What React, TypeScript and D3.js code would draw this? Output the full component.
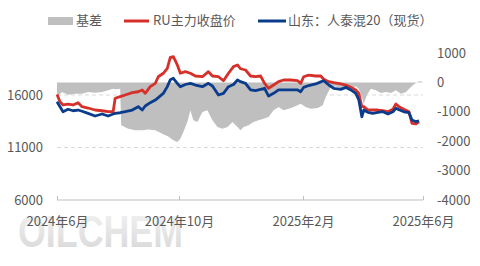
import React from "react";
import * as d3 from "d3";

const lineDates = [
  "2024-06-01","2024-06-04","2024-06-07","2024-06-12","2024-06-17","2024-06-22","2024-06-26","2024-07-02","2024-07-09","2024-07-16",
  "2024-07-22","2024-07-27","2024-07-29","2024-08-03","2024-08-08","2024-08-15","2024-08-21","2024-08-25","2024-08-28","2024-09-02",
  "2024-09-07","2024-09-10","2024-09-15","2024-09-19","2024-09-22","2024-09-25","2024-09-29","2024-10-02","2024-10-07","2024-10-12",
  "2024-10-17","2024-10-24","2024-10-30","2024-11-03","2024-11-09","2024-11-14","2024-11-19","2024-11-24","2024-11-28","2024-12-01",
  "2024-12-06","2024-12-11","2024-12-16","2024-12-21","2024-12-25","2024-12-29","2025-01-03","2025-01-08","2025-01-13","2025-01-20",
  "2025-01-27","2025-01-30","2025-02-02","2025-02-07","2025-02-14","2025-02-19","2025-02-22","2025-02-27","2025-03-04","2025-03-11",
  "2025-03-16","2025-03-21","2025-03-26","2025-03-29","2025-04-01","2025-04-03","2025-04-07","2025-04-12","2025-04-17","2025-04-22",
  "2025-04-27","2025-05-02","2025-05-05","2025-05-08","2025-05-13","2025-05-18","2025-05-21","2025-05-25","2025-05-28"
];

const futuresValues = [
  16050,15360,15050,15140,15050,15270,14890,14760,14570,14500,
  14410,14410,15690,15840,16000,16220,16310,16480,16160,16790,
  17110,17740,18070,18540,19590,19650,18860,18070,18220,18070,
  17810,17740,18220,17810,17740,17360,18070,18700,18860,18500,
  18380,17810,17740,17810,17110,16640,16950,17270,17430,17430,
  17360,17110,17740,17900,17810,17810,17500,17270,17170,17050,
  16950,16730,16480,16160,14890,14890,14570,14570,14570,14500,
  14410,14640,15140,14890,14640,14410,13300,13240,13460
];

const spotValues = [
  15360,14890,14410,14640,14500,14570,14450,14250,14000,14190,
  14000,14190,14250,14310,14410,14570,14890,14570,14950,15270,
  15520,15750,16150,16800,17450,17590,17100,16790,17000,17110,
  16950,16790,17110,16860,16000,16160,16790,17000,17430,17270,
  17110,16480,16410,16540,16640,15900,16160,16480,16480,16480,
  16480,16310,16730,16900,17050,17250,17360,16950,16640,16540,
  16730,16480,16160,15520,13930,14570,14350,14260,14350,14410,
  14190,14410,14730,14600,14400,14310,13620,13460,13550
];

const basisDates = [
  "2024-06-01","2024-06-06","2024-06-12","2024-06-19","2024-06-26","2024-07-02","2024-07-09","2024-07-16","2024-07-22","2024-07-27",
  "2024-07-30","2024-08-03","2024-08-04","2024-08-11","2024-08-18","2024-08-25","2024-08-31","2024-09-07","2024-09-14","2024-09-20",
  "2024-09-25","2024-09-29","2024-10-02","2024-10-05","2024-10-09","2024-10-12","2024-10-15","2024-10-19","2024-10-24","2024-10-29",
  "2024-11-03","2024-11-08","2024-11-13","2024-11-18","2024-11-23","2024-11-28","2024-12-01","2024-12-04","2024-12-09","2024-12-14",
  "2024-12-19","2024-12-24","2024-12-29","2025-01-03","2025-01-08","2025-01-13","2025-01-18","2025-01-23","2025-01-30","2025-02-04",
  "2025-02-09","2025-02-16","2025-02-21","2025-02-24","2025-03-01","2025-03-06","2025-03-11","2025-03-16","2025-03-21","2025-03-26",
  "2025-03-29","2025-04-01","2025-04-03","2025-04-06","2025-04-10","2025-04-15","2025-04-20","2025-04-25","2025-04-30","2025-05-05",
  "2025-05-10","2025-05-15","2025-05-20","2025-05-23","2025-05-27","2025-05-30","2025-06-01"
];

const basisValues = [
  -500,-330,-420,-385,-385,-330,-350,-330,-270,-215,
  -230,-220,-1460,-1575,-1630,-1630,-1600,-1630,-1745,-1840,
  -1970,-2030,-1915,-1690,-1350,-950,-1290,-1350,-1010,-950,
  -1290,-1520,-1575,-1520,-1350,-1520,-1630,-1520,-1460,-1350,
  -1290,-1235,-1180,-950,-840,-950,-895,-840,-725,-840,
  -895,-870,-780,-500,-160,-130,-215,-240,-215,-130,
  -215,-500,-725,-430,-215,-270,-360,-330,-360,-270,
  -385,-330,-160,-60,20,40,0
];

const leftTicks = [6000, 11000, 16000];
const leftGrid = [11000, 16000];
const rightTicks = [1000, 0, -1000, -2000, -3000, -4000];
const xTickDates = ["2024-06-01", "2024-10-01", "2025-02-01", "2025-06-01"];
const xTickLabels = ["2024年6月", "2024年10月", "2025年2月", "2025年6月"];
const legendLabels = ["基差", "RU主力收盘价", "山东：人泰混20（现货）"];

const RED = "#d6302a";
const BLUE = "#0b3c8c";
const GRAY = "#bfbfbf";
const TEXT = "#595959";
const FONT = "'Noto Sans CJK SC', 'Noto Sans', sans-serif";

export default function App() {
  const parse = d3.timeParse("%Y-%m-%d");
  const x = d3
    .scaleTime()
    .domain([parse("2024-06-01")!, parse("2025-06-01")!])
    .range([57, 423]);
  const yL = d3.scaleLinear().domain([6000, 20000]).range([200, 53]);
  const yR = d3.scaleLinear().domain([-4000, 1000]).range([200, 53]);

  const lineData = lineDates.map((d, i) => ({
    date: parse(d)!,
    fut: futuresValues[i],
    spot: spotValues[i],
  }));
  const basisData = basisDates.map((d, i) => ({ date: parse(d)!, v: basisValues[i] }));

  const area = d3
    .area<{ date: Date; v: number }>()
    .x((d) => x(d.date))
    .y0(yR(0))
    .y1((d) => yR(d.v));
  const futLine = d3
    .line<{ date: Date; fut: number }>()
    .x((d) => x(d.date))
    .y((d) => yL(d.fut));
  const spotLine = d3
    .line<{ date: Date; spot: number }>()
    .x((d) => x(d.date))
    .y((d) => yL(d.spot));

  return (
    <svg
      width={480}
      height={266}
      style={{ position: "absolute", left: 0, top: 0, background: "#fff" }}
      fontFamily={FONT}
    >
      <defs>
        <linearGradient id="wm" x1="0" y1="0" x2="0" y2="1">
          <stop offset="0" stopColor="#f4f4f4" />
          <stop offset="1" stopColor="#d6d6d6" />
        </linearGradient>
      </defs>
      <rect x={0} y={0} width={480} height={266} fill="#fff" />

      {/* watermark */}
      <text
        x={18}
        y={247}
        fontSize={44}
        fontWeight="bold"
        fontFamily="'Liberation Sans', Arial, sans-serif"
        fill="url(#wm)"
        textLength={165}
        lengthAdjust="spacingAndGlyphs"
      >
        OILCHEM
      </text>

      {/* grid */}
      {leftGrid.map((t) => (
        <line
          key={t}
          x1={57}
          x2={423}
          y1={yL(t)}
          y2={yL(t)}
          stroke="#d9d9d9"
          strokeDasharray="4,3"
          strokeWidth={1}
        />
      ))}

      {/* basis area */}
      <path d={area(basisData) || ""} fill={GRAY} />

      {/* lines */}
      <path d={futLine(lineData) || ""} fill="none" stroke={RED} strokeWidth={2.8} strokeLinejoin="round" />
      <path d={spotLine(lineData) || ""} fill="none" stroke={BLUE} strokeWidth={2.8} strokeLinejoin="round" />

      {/* x axis */}
      <line x1={57} x2={423} y1={200} y2={200} stroke={GRAY} strokeWidth={1} />
      {xTickDates.map((d, i) => {
        const xx = Math.round(x(parse(d)!)) + 0.5;
        return (
          <g key={d}>
            <line x1={xx} x2={xx} y1={196} y2={200} stroke={GRAY} />
            <text x={xx} y={226} textAnchor="middle" fontSize={13} fill={TEXT}>
              {xTickLabels[i]}
            </text>
          </g>
        );
      })}

      {/* left axis labels */}
      {leftTicks.map((t) => (
        <text key={t} x={43} y={yL(t) + 4.5} textAnchor="end" fontSize={13} fill={TEXT}>
          {t}
        </text>
      ))}

      {/* right axis labels */}
      {rightTicks.map((t) => (
        <text key={t} x={437} y={yR(t) + 4.5} textAnchor="start" fontSize={13} fill={TEXT}>
          {t}
        </text>
      ))}

      {/* legend */}
      <rect x={48} y={17} width={25} height={8} fill={GRAY} />
      <text x={76} y={25} fontSize={13} fill={TEXT}>
        {legendLabels[0]}
      </text>
      <line x1={124} x2={149} y1={21} y2={21} stroke={RED} strokeWidth={3} />
      <text x={153} y={25} fontSize={13} fill={TEXT}>
        {legendLabels[1]}
      </text>
      <line x1={258} x2={286} y1={21} y2={21} stroke={BLUE} strokeWidth={3} />
      <text x={288} y={25} fontSize={13} fill={TEXT}>
        {legendLabels[2]}
      </text>
    </svg>
  );
}
